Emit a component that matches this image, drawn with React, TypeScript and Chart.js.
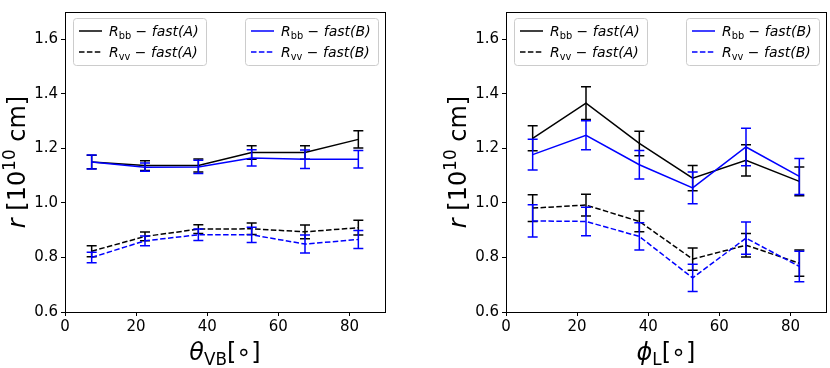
import React, { useEffect, useRef } from "react";
import { Chart, registerables } from "chart.js";
Chart.register(...registerables);

const FONT = '"DejaVu Sans", "Liberation Sans", sans-serif';

const angles = [7.5, 22.5, 37.5, 52.5, 67.5, 82.5];
const xTicks = [0, 20, 40, 60, 80];
const xTickLabels = ["0", "20", "40", "60", "80"];
const yTicks = [0.6, 0.8, 1.0, 1.2, 1.4, 1.6];
const yTickLabels = ["0.6", "0.8", "1.0", "1.2", "1.4", "1.6"];

// left panel: theta_VB
const thetaRbbA = [1.15, 1.137, 1.137, 1.185, 1.185, 1.233];
const thetaRbbAErr = [0.025, 0.018, 0.024, 0.025, 0.025, 0.032];
const thetaRbbB = [1.15, 1.131, 1.132, 1.165, 1.16, 1.16];
const thetaRbbBErr = [0.026, 0.015, 0.024, 0.03, 0.034, 0.032];
const thetaRvvA = [0.823, 0.877, 0.904, 0.905, 0.894, 0.909];
const thetaRvvAErr = [0.02, 0.016, 0.016, 0.021, 0.025, 0.027];
const thetaRvvB = [0.8, 0.861, 0.883, 0.883, 0.849, 0.866];
const thetaRvvBErr = [0.019, 0.018, 0.021, 0.028, 0.033, 0.033];

// right panel: phi_L
const phiRbbA = [1.237, 1.366, 1.218, 1.091, 1.156, 1.079];
const phiRbbAErr = [0.046, 0.06, 0.045, 0.046, 0.057, 0.053];
const phiRbbB = [1.177, 1.248, 1.14, 1.055, 1.205, 1.097];
const phiRbbBErr = [0.056, 0.053, 0.052, 0.058, 0.069, 0.066];
const phiRvvA = [0.981, 0.992, 0.932, 0.794, 0.845, 0.779];
const phiRvvAErr = [0.049, 0.04, 0.038, 0.041, 0.043, 0.048];
const phiRvvB = [0.934, 0.932, 0.877, 0.725, 0.871, 0.767];
const phiRvvBErr = [0.059, 0.052, 0.05, 0.05, 0.059, 0.056];

const BLACK = "#000000";
const BLUE = "#0000ff";
const DASH = [5.5, 2.4];

type Seg = { t: string; italic?: boolean; sub?: boolean; sup?: boolean };

function segFont(s: Seg, size: number) {
  const sz = s.sub || s.sup ? size * 0.7 : size;
  return `${s.italic ? "italic " : ""}${sz}px ${FONT}`;
}

function richWidth(ctx: CanvasRenderingContext2D, segs: Seg[], size: number) {
  let w = 0;
  for (const s of segs) {
    ctx.font = segFont(s, size);
    w += ctx.measureText(s.t).width;
  }
  return w;
}

function drawRich(ctx: CanvasRenderingContext2D, segs: Seg[], x: number, y: number, size: number, color: string) {
  ctx.fillStyle = color;
  ctx.textBaseline = "alphabetic";
  ctx.textAlign = "left";
  let cx = x;
  for (const s of segs) {
    ctx.font = segFont(s, size);
    let dy = 0;
    if (s.sub) dy = size * 0.22;
    if (s.sup) dy = -size * 0.4;
    ctx.fillText(s.t, cx, y + dy);
    cx += ctx.measureText(s.t).width;
  }
}

function legendLabel(sub: string, which: string): Seg[] {
  return [
    { t: "R", italic: true },
    { t: sub, sub: true },
    { t: " \u2212 " },
    { t: `fast(${which})`, italic: true },
  ];
}

const legendA = [
  { segs: legendLabel("bb", "A"), color: BLACK, dash: [] as number[] },
  { segs: legendLabel("vv", "A"), color: BLACK, dash: DASH },
];
const legendB = [
  { segs: legendLabel("bb", "B"), color: BLUE, dash: [] as number[] },
  { segs: legendLabel("vv", "B"), color: BLUE, dash: DASH },
];

const yTitle: Seg[] = [{ t: "r", italic: true }, { t: " [10" }, { t: "10", sup: true }, { t: " cm]" }];
const xTitleTheta: Seg[] = [{ t: "\u03b8", italic: true }, { t: "VB", sub: true }, { t: "[\u2218]" }];
const xTitlePhi: Seg[] = [{ t: "\u03d5", italic: true }, { t: "L", sub: true }, { t: "[\u2218]" }];

type PanelProps = {
  left: number;
  padL: number;
  padR: number;
  rbbA: number[];
  rbbAErr: number[];
  rbbB: number[];
  rbbBErr: number[];
  rvvA: number[];
  rvvAErr: number[];
  rvvB: number[];
  rvvBErr: number[];
  xTitle: Seg[];
};

function Panel(p: PanelProps) {
  const ref = useRef<HTMLCanvasElement | null>(null);
  useEffect(() => {
    if (!ref.current) return;
    const mk = (vals: number[], errs: number[], color: string, dash: number[]) => ({
      data: angles.map((a, i) => ({ x: a, y: vals[i] })),
      errors: errs,
      borderColor: color,
      backgroundColor: color,
      borderWidth: 1.5,
      borderDash: dash,
      pointRadius: 0,
      tension: 0,
      fill: false,
    });
    const datasets: any[] = [
      mk(p.rvvB, p.rvvBErr, BLUE, DASH),
      mk(p.rbbB, p.rbbBErr, BLUE, []),
      mk(p.rvvA, p.rvvAErr, BLACK, DASH),
      mk(p.rbbA, p.rbbAErr, BLACK, []),
    ];

    const errPlugin = {
      id: "errbars",
      afterDatasetDraw(chart: any, args: any) {
        const ds = chart.data.datasets[args.index];
        const ctx = chart.ctx as CanvasRenderingContext2D;
        const xs = chart.scales.x;
        const ys = chart.scales.y;
        ctx.save();
        ctx.strokeStyle = ds.borderColor;
        ctx.lineWidth = 1.5;
        ctx.setLineDash([]);
        ds.data.forEach((pt: any, i: number) => {
          const e = ds.errors[i];
          const px = xs.getPixelForValue(pt.x);
          const y1 = ys.getPixelForValue(pt.y - e);
          const y2 = ys.getPixelForValue(pt.y + e);
          ctx.beginPath();
          ctx.moveTo(px, y1);
          ctx.lineTo(px, y2);
          ctx.moveTo(px - 5, y1);
          ctx.lineTo(px + 5, y1);
          ctx.moveTo(px - 5, y2);
          ctx.lineTo(px + 5, y2);
          ctx.stroke();
        });
        ctx.restore();
      },
    };

    const decoPlugin = {
      id: "deco",
      afterDraw(chart: any) {
        const ctx = chart.ctx as CanvasRenderingContext2D;
        const a = chart.chartArea;
        ctx.save();
        ctx.strokeStyle = "#000";
        ctx.lineWidth = 1;
        ctx.setLineDash([]);
        ctx.strokeRect(Math.round(a.left) + 0.5, Math.round(a.top) + 0.5, Math.round(a.right - a.left), Math.round(a.bottom - a.top));

        // legends
        const drawLegend = (bx: number, entries: typeof legendA) => {
          const by = a.top + 6;
          const bw = 133;
          const bh = 47;
          ctx.beginPath();
          (ctx as any).roundRect(bx + 0.5, by + 0.5, bw, bh, 3);
          ctx.fillStyle = "rgba(255,255,255,0.8)";
          ctx.fill();
          ctx.strokeStyle = "#cccccc";
          ctx.lineWidth = 1;
          ctx.stroke();
          entries.forEach((en, i) => {
            const ry = by + 13 + i * 21;
            ctx.beginPath();
            ctx.strokeStyle = en.color;
            ctx.lineWidth = 1.5;
            ctx.setLineDash(en.dash);
            ctx.moveTo(bx + 6, ry);
            ctx.lineTo(bx + 29, ry);
            ctx.stroke();
            ctx.setLineDash([]);
            drawRich(ctx, en.segs, bx + 36, ry + 5, 14, "#000");
          });
        };
        drawLegend(a.left + 8, legendA);
        drawLegend(a.right - 140, legendB);

        // x title
        const ts = 24;
        const xw = richWidth(ctx, p.xTitle, ts);
        drawRich(ctx, p.xTitle, (a.left + a.right) / 2 - xw / 2, 360, ts, "#000");

        // y title
        const yw = richWidth(ctx, yTitle, ts);
        ctx.translate(a.left - 40, (a.top + a.bottom) / 2);
        ctx.rotate(-Math.PI / 2);
        drawRich(ctx, yTitle, -yw / 2, 0, ts, "#000");
        ctx.restore();
      },
    };

    const tickFont = { family: FONT, size: 15 };
    const chart = new Chart(ref.current, {
      type: "line",
      data: { datasets },
      plugins: [errPlugin, decoPlugin],
      options: {
        animation: false,
        responsive: false,
        layout: { padding: { left: p.padL, right: p.padR, top: 4, bottom: 0 } },
        plugins: { legend: { display: false }, tooltip: { enabled: false } },
        scales: {
          x: {
            type: "linear",
            min: 0,
            max: 90,
            afterBuildTicks: (s: any) => {
              s.ticks = xTicks.map((v) => ({ value: v }));
            },
            afterFit: (s: any) => {
              s.height = 56;
            },
            grid: { display: true, drawOnChartArea: false, drawTicks: true, tickLength: 4, color: "#000", lineWidth: 1 },
            border: { display: true, color: "#000", width: 1 },
            ticks: {
              color: "#000",
              font: tickFont,
              padding: 2,
              maxRotation: 0,
              autoSkip: false,
              callback: (_v: any, i: number) => xTickLabels[i],
            },
          },
          y: {
            type: "linear",
            min: 0.6,
            max: 1.7,
            afterBuildTicks: (s: any) => {
              s.ticks = yTicks.map((v) => ({ value: v }));
            },
            afterFit: (s: any) => {
              s.width = 65;
            },
            grid: { display: true, drawOnChartArea: false, drawTicks: true, tickLength: 4, color: "#000", lineWidth: 1 },
            border: { display: true, color: "#000", width: 1 },
            ticks: {
              color: "#000",
              font: tickFont,
              padding: 3,
              autoSkip: false,
              callback: (_v: any, i: number) => yTickLabels[i],
            },
          },
        },
      } as any,
    });
    return () => chart.destroy();
  }, []);
  return (
    <canvas
      ref={ref}
      width={415}
      height={368}
      style={{ position: "absolute", left: p.left, top: 0, width: 415, height: 368 }}
    />
  );
}

export default function App() {
  return (
    <div style={{ position: "fixed", left: 0, top: 0, width: 830, height: 368, background: "#fff" }}>
      <Panel
        left={0}
        padL={0}
        padR={30}
        rbbA={thetaRbbA}
        rbbAErr={thetaRbbAErr}
        rbbB={thetaRbbB}
        rbbBErr={thetaRbbBErr}
        rvvA={thetaRvvA}
        rvvAErr={thetaRvvAErr}
        rvvB={thetaRvvB}
        rvvBErr={thetaRvvBErr}
        xTitle={xTitleTheta}
      />
      <Panel
        left={415}
        padL={26}
        padR={4}
        rbbA={phiRbbA}
        rbbAErr={phiRbbAErr}
        rbbB={phiRbbB}
        rbbBErr={phiRbbBErr}
        rvvA={phiRvvA}
        rvvAErr={phiRvvAErr}
        rvvB={phiRvvB}
        rvvBErr={phiRvvBErr}
        xTitle={xTitlePhi}
      />
    </div>
  );
}
